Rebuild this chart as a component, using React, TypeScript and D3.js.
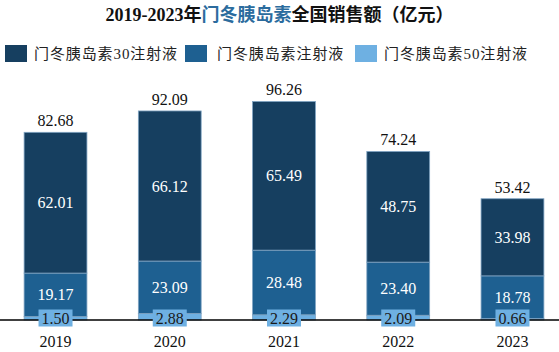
import React from "react";
import { scaleBand, scaleLinear, stack } from "d3";

const years = ["2019", "2020", "2021", "2022", "2023"];
const inj30 = [62.01, 66.12, 65.49, 48.75, 33.98];
const injStd = [19.17, 23.09, 28.48, 23.4, 18.78];
const inj50 = [1.5, 2.88, 2.29, 2.09, 0.66];
const totals = [82.68, 92.09, 96.26, 74.24, 53.42];

const seriesKeys = ["inj50", "injStd", "inj30"];
const seriesNames: Record<string, string> = {
  inj30: "门冬胰岛素30注射液",
  injStd: "门冬胰岛素注射液",
  inj50: "门冬胰岛素50注射液",
};
const colors: Record<string, string> = {
  inj30: "#163f60",
  injStd: "#1e6091",
  inj50: "#6eb0e2",
};

const W = 559;
const H = 352;
const numFont = "'Liberation Serif', 'Times New Roman', serif";
const cjkFont = "'Liberation Serif', 'Noto Sans CJK SC', serif";

export default function App() {
  const rows = years.map((y, i) => ({
    year: y,
    inj30: inj30[i],
    injStd: injStd[i],
    inj50: inj50[i],
  }));
  const layers = stack<any>().keys(seriesKeys)(rows);

  const x = scaleBand<string>()
    .domain(years)
    .range([-1.6, 569.6])
    .paddingInner(0.45)
    .paddingOuter(0.225);
  const y = scaleLinear().domain([0, 100]).range([320, 93]);
  const bw = x.bandwidth();

  const legendItems = [
    { key: "inj30", bx: 5, tx: 34 },
    { key: "injStd", bx: 185, tx: 217 },
    { key: "inj50", bx: 355, tx: 384 },
  ];

  return (
    <svg
      width={W}
      height={H}
      style={{ position: "absolute", left: 0, top: 0, background: "#fff" }}
    >
      <text
        x={W / 2}
        y={21}
        textAnchor="middle"
        fontFamily={cjkFont}
        fontWeight="bold"
        fontSize={18}
        fill="#111"
      >
        2019-2023年<tspan fill="#2b6c9e">门冬胰岛素</tspan>全国销售额（亿元）
      </text>

      {legendItems.map((d) => (
        <g key={d.key}>
          <rect x={d.bx} y={45} width={22} height={17} fill={colors[d.key]} />
          <text
            x={d.tx}
            y={59}
            fontFamily={cjkFont}
            fontSize={15}
            letterSpacing={0.9}
            fill="#222"
          >
            {seriesNames[d.key]}
          </text>
        </g>
      ))}

      {layers.map((layer) => (
        <g key={layer.key}>
          {layer.map((d, i) => (
            <rect
              key={i}
              x={x(years[i])}
              y={y(d[1])}
              width={bw}
              height={y(d[0]) - y(d[1])}
              fill={colors[layer.key]}
              stroke="#7fa3c2"
              strokeWidth={0.8}
            />
          ))}
        </g>
      ))}

      <line x1={0} x2={W} y1={320} y2={320} stroke="#000" strokeWidth={1.3} />

      {layers.map((layer) =>
        layer.map((d, i) => {
          const cx = (x(years[i]) ?? 0) + bw / 2;
          const v = d[1] - d[0];
          if (layer.key === "inj50") {
            return (
              <g key={layer.key + i}>
                <rect x={cx - 17} y={309.5} width={34} height={17} fill={colors.inj50} />
                <text
                  x={cx}
                  y={324}
                  textAnchor="middle"
                  fontFamily={numFont}
                  fontSize={16}
                  fill="#1a1a1a"
                >
                  {v.toFixed(2)}
                </text>
              </g>
            );
          }
          const cy = (y(d[0]) + y(d[1])) / 2;
          return (
            <text
              key={layer.key + i}
              x={cx}
              y={cy + 5.5}
              textAnchor="middle"
              fontFamily={numFont}
              fontSize={16}
              fill="#fff"
            >
              {v.toFixed(2)}
            </text>
          );
        })
      )}

      {years.map((yr, i) => (
        <text
          key={"t" + yr}
          x={(x(yr) ?? 0) + bw / 2}
          y={y(totals[i]) - 6}
          textAnchor="middle"
          fontFamily={numFont}
          fontSize={16}
          fill="#111"
        >
          {totals[i].toFixed(2)}
        </text>
      ))}

      {years.map((yr) => (
        <text
          key={"x" + yr}
          x={(x(yr) ?? 0) + bw / 2}
          y={347}
          textAnchor="middle"
          fontFamily={numFont}
          fontSize={16}
          fill="#111"
        >
          {yr}
        </text>
      ))}
    </svg>
  );
}
